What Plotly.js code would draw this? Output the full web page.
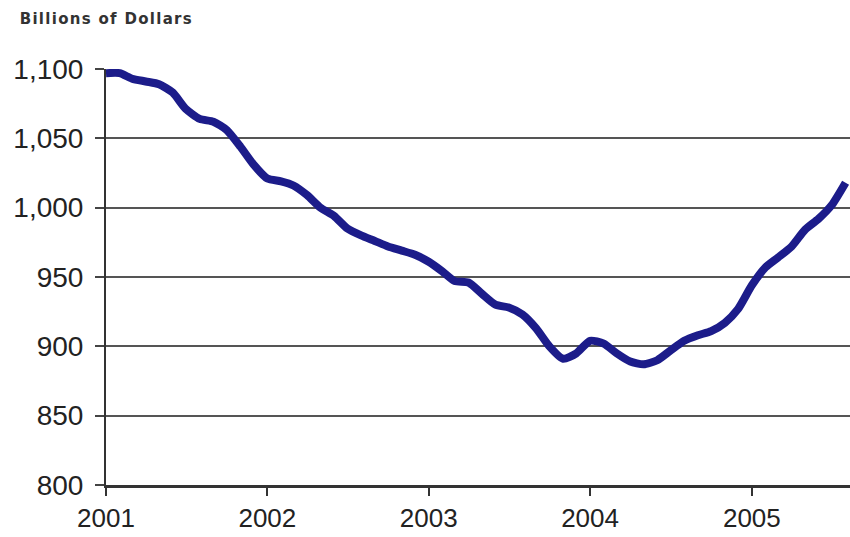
<!DOCTYPE html>
<html>
<head>
<meta charset="utf-8">
<script src="https://cdn.plot.ly/plotly-3.0.1.min.js"></script>
<style>
html,body{margin:0;padding:0;background:#fff;}
#chart{width:850px;height:537px;}
#chart .annotation-text{letter-spacing:1.3px;}
</style>
</head>
<body>
<div id="chart"></div>
<script>
const startYear = 2001;
const startMonth = 1;
const values = [
  1097, 1097, 1093, 1091, 1089, 1083, 1071, 1064, 1062, 1056, 1044, 1031,
  1021, 1019, 1016, 1009, 1000, 994, 985, 980, 976, 972, 969, 966,
  961, 954, 947, 946, 938, 930, 928, 923, 913, 900, 891, 895,
  904, 902, 895, 889, 887, 890, 897, 904, 908, 911, 917, 927,
  944, 957, 964, 972, 984, 992, 1002, 1018
];
const yTicks = [800, 850, 900, 950, 1000, 1050, 1100];
const yTickLabels = ['800', '850', '900', '950', '1,000', '1,050', '1,100'];
const xTicks = ['2001-01-01', '2002-01-01', '2003-01-01', '2004-01-01', '2005-01-01'];
const xTickLabels = ['2001', '2002', '2003', '2004', '2005'];

const dates = values.map((v, i) => {
  const y = startYear + Math.floor((startMonth - 1 + i) / 12);
  const m = ((startMonth - 1 + i) % 12) + 1;
  return y + '-' + String(m).padStart(2, '0') + '-01';
});

const trace = {
  x: dates, y: values, type: 'scatter', mode: 'lines',
  line: {color: '#1c1c8a', width: 8, shape: 'spline', smoothing: 0.6},
  hoverinfo: 'skip'
};

const layout = {
  width: 850, height: 537,
  margin: {l: 106, r: 0, t: 69, b: 52},
  paper_bgcolor: '#fff', plot_bgcolor: '#fff',
  showlegend: false,
  font: {family: 'Liberation Sans, Arial, sans-serif', color: '#222'},
  xaxis: {
    type: 'date', range: ['2001-01-01', '2005-08-11'],
    tickvals: xTicks, ticktext: xTickLabels,
    ticks: 'outside', ticklen: 8, tickwidth: 2, tickcolor: '#333',
    ticklabelstandoff: 0,
    showgrid: false, zeroline: false,
    showline: true, linecolor: '#333', linewidth: 3,
    tickfont: {size: 26, color: '#222'}
  },
  yaxis: {
    range: [800, 1100],
    tickvals: yTicks, ticktext: yTickLabels,
    ticks: 'outside', ticklen: 9, tickwidth: 2, tickcolor: '#444',
    ticklabelstandoff: 6,
    showgrid: true, gridcolor: '#555', gridwidth: 2,
    zeroline: false, showline: true, linecolor: '#333', linewidth: 2,
    tickfont: {size: 28, color: '#222'}
  },
  annotations: [{
    text: '<b>Billions of Dollars</b>', xref: 'paper', yref: 'paper',
    x: -0.1025, y: 1.12, xanchor: 'left', yanchor: 'middle', showarrow: false,
    font: {family: 'DejaVu Sans, sans-serif', size: 15, color: '#333'}
  }]
};

Plotly.newPlot('chart', [trace], layout, {staticPlot: true, displayModeBar: false});
</script>
</body>
</html>
